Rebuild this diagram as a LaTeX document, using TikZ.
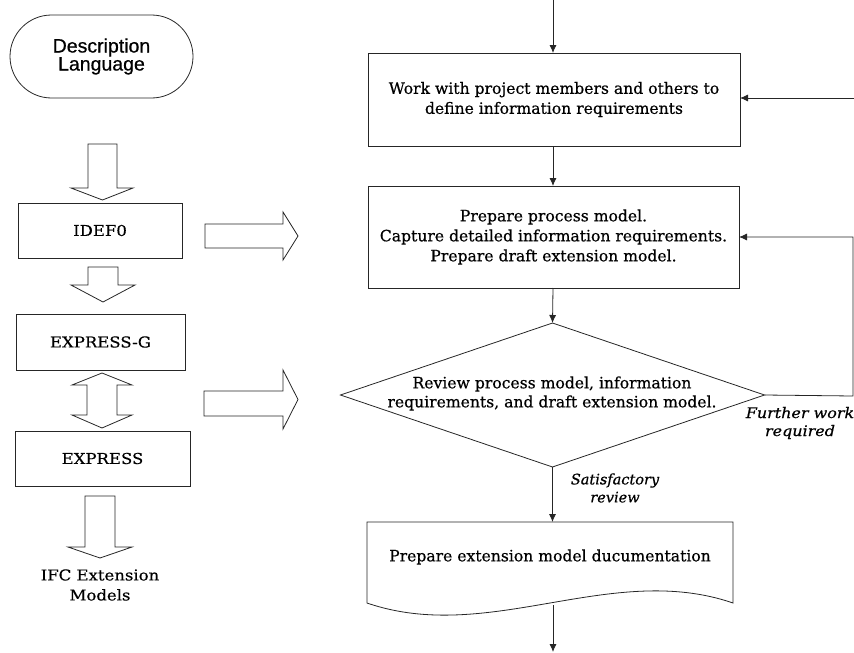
\documentclass[tikz,border=0pt]{standalone}
\usepackage{fontspec}
\setmainfont{DejaVu Serif}
\newfontfamily\headfont{Liberation Sans}[FakeBold=0.6]
\newfontfamily\heavyserif{DejaVu Serif}[FakeBold=0.5]
\newfontfamily\capserif{DejaVu Serif}[FakeBold=0.4, FakeStretch=1.1]
\newfontfamily\branchserif{DejaVu Serif Italic}[FakeBold=0.5]
\newfontfamily\widebranchserif{DejaVu Serif Italic}[FakeBold=0.5, FakeStretch=1.1]
\usetikzlibrary{arrows.meta,shapes.geometric,shapes.misc}

\begin{document}
\begin{tikzpicture}[x=1pt,y=-1pt,
  line/.style={draw=black!85, line width=0.8pt},
  flow/.style={line, -{Latex[length=8pt,width=7pt]}},
  stepbox/.style={line, rectangle, align=center, inner sep=0pt, outer sep=0pt,
    font=\heavyserif\fontsize{15.6}{20}\selectfont},
  langbox/.style={line, rectangle, inner sep=0pt, outer sep=0pt,
    font=\capserif\fontsize{15}{18}\selectfont},
  fat/.style={line, fill=white, line join=miter},
  note/.style={align=center, inner sep=0pt, font=\branchserif\fontsize{14.5}{18}\selectfont}
]
\useasboundingbox (0,0) rectangle (854,653);

% ---------- left column: description languages ----------
\node[line, rounded rectangle, minimum width=183pt, minimum height=83pt,
      inner sep=0pt, align=center, font=\headfont\fontsize{19.5}{18}\selectfont]
      (lang) at (101.5,56.5) {Description\\Language};

\node[langbox, minimum width=164pt, minimum height=55pt] (idef) at (100,230.5) {IDEF0};
\node[langbox, minimum width=169pt, minimum height=56pt] (expg) at (100.5,342) {EXPRESS-G};
\node[langbox, minimum width=175pt, minimum height=55pt] (expr) at (102.5,458.5) {EXPRESS};
\node[align=center, inner sep=0pt, font=\capserif\fontsize{15}{20}\selectfont]
      (ifc) at (100,585) {IFC Extension\\Models};

% block arrows between the languages
\draw[fat] (88,144) -- (117,144) -- (117,188) -- (133,188) -- (102.5,200)
           -- (71,188) -- (88,188) -- cycle;
\draw[fat] (88,267) -- (118,267) -- (118,285) -- (135,285) -- (103,302)
           -- (71,285) -- (88,285) -- cycle;
\draw[fat] (102,373) -- (132,385) -- (117,385) -- (117,415) -- (132,415)
           -- (102,428) -- (72,415) -- (87,415) -- (87,385) -- (72,385) -- cycle;
\draw[fat] (85,496) -- (115,496) -- (115,547) -- (132,547) -- (100,558)
           -- (68,547) -- (85,547) -- cycle;

% block arrows into the process
\draw[fat] (205,224) -- (283,224) -- (283,212) -- (298,236) -- (283,260)
           -- (283,248) -- (205,248) -- cycle;
\draw[fat] (204,391) -- (283,391) -- (283,370) -- (298,399.5) -- (283,429)
           -- (283,416) -- (204,416) -- cycle;

% ---------- right column: extension process ----------
\node[stepbox, minimum width=372pt, minimum height=93pt] (work) at (554,99.5)
  {Work with project members and others to\\define information requirements};
\node[stepbox, minimum width=371pt, minimum height=102pt] (prep) at (553.5,237)
  {Prepare process model.\\Capture detailed information requirements.\\Prepare draft extension model.};
\node[line, diamond, minimum width=424pt, minimum height=144pt, inner sep=0pt,
      outer sep=0pt] (review) at (552.5,395) {};
\node[align=center, inner sep=0pt, font=\heavyserif\fontsize{15.6}{19}\selectfont]
  (reviewtxt) at (552,393.5)
  {Review process model, information\\requirements, and draft extension model.};

% document shape
\coordinate (docTop) at (553,522);
\coordinate (docOut) at (553,605);
\draw[line] (367,522) -- (733,522) -- (733,603)
  .. controls (611,561) and (489,645) .. (367,603) -- cycle;
\node[inner sep=0pt, font=\heavyserif\fontsize{15.6}{20}\selectfont] (doc) at (550,557)
  {Prepare extension model ducumentation};

% connectors
\coordinate (topIn) at (553,0);
\coordinate (fromRight) at (854,98);
\coordinate (loopR) at (853,396);
\coordinate (outEnd) at (553,652);

\draw[flow] (topIn) -- (topIn |- work.north);
\draw[flow] (fromRight) -- (work.east |- fromRight);
\draw[flow] (work.south -| topIn) -- (prep.north -| topIn);
\draw[flow] (prep.south -| topIn) -- (review.north);
\draw[flow] (review.east) -- (loopR) |- (prep.east);
\draw[flow] (review.south) -- (review.south |- docTop);
\draw[flow] (docOut) -- (outEnd);

% branch labels
\node[note, font=\widebranchserif\fontsize{14.5}{18}\selectfont] (further) at (800,423) {Further work\\required};
\node[note] (satisf) at (615,488) {Satisfactory\\review};
\end{tikzpicture}
\end{document}
